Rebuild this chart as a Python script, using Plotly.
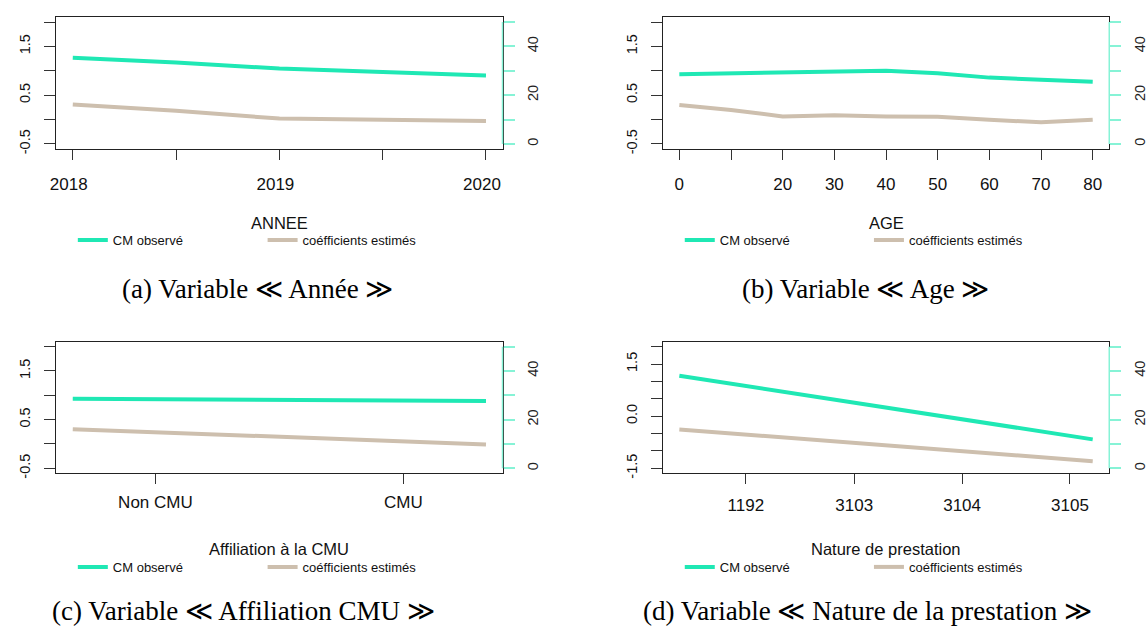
import plotly.graph_objects as go

# ---------------- data ----------------
annee = [2018, 2018.5, 2019, 2019.5, 2020]
cm_annee = [35.3, 33.4, 30.9, 29.6, 28.1]
coef_annee = [0.31, 0.18, 0.02, -0.01, -0.03]
annee_ticks = [2018, 2018.5, 2019, 2019.5, 2020]
annee_labels = ["2018", "", "2019", "", "2020"]

age = [0, 10, 20, 30, 40, 50, 60, 70, 80]
cm_age = [28.6, 28.9, 29.4, 29.8, 30.0, 29.0, 27.2, 26.3, 25.5]
coef_age = [0.30, 0.195, 0.065, 0.086, 0.065, 0.059, -0.003, -0.057, -0.003]
age_ticks = [0, 10, 20, 30, 40, 50, 60, 70, 80]
age_labels = ["0", "", "20", "30", "40", "50", "60", "70", "80"]

cmu_pos = [0, 0.25, 0.5, 0.75, 1.0]
cm_cmu = [28.6, 28.3, 28.2, 28.0, 27.7]
coef_cmu = [0.305, 0.23, 0.148, 0.066, -0.009]
cmu_ticks = [0.2, 0.8]
cmu_labels = ["Non CMU", "CMU"]

nature_pos = [0, 1]
cm_nature = [38.0, 11.9]
coef_nature = [-0.383, -1.293]
nature_ticks = [0.161, 0.423, 0.684, 0.945]
nature_labels = ["1192", "3103", "3104", "3105"]

left_ticks_std = [-0.5, 0, 0.5, 1.0, 1.5, 2.0]
left_labels_std = ["-0.5", "", "0.5", "", "1.5", ""]
left_ticks_d = [-1.5, -1.0, -0.5, 0, 0.5, 1.0, 1.5, 2.0]
left_labels_d = ["-1.5", "", "", "0.0", "", "", "1.5", ""]
right_ticks = [0, 10, 20, 30, 40, 50]
right_labels = ["0", "", "20", "", "40", ""]

axis_titles = ["ANNEE", "AGE", "Affiliation à la CMU", "Nature de prestation"]
captions = ["(a) Variable ≪ Année ≫", "(b) Variable ≪ Age ≫",
            "(c) Variable ≪ Affiliation CMU ≫", "(d) Variable ≪ Nature de la prestation ≫"]
series_names = ["CM observé", "coéfficients estimés"]

# ---------------- style ----------------
W, H = 1148, 628
TEAL = "#1fe8b4"
BEIGE = "#cdbfae"
AXTEAL = "#86f3d6"
SANS = "Liberation Sans, Arial, sans-serif"
SERIF = "Liberation Serif, Times New Roman, serif"

def px_x(p):
    return p / W

def px_y(p):
    return 1 - p / H

panels = [
    dict(x=annee, cm=cm_annee, coef=coef_annee, xt=annee_ticks, xl=annee_labels,
         xr=[2017.92, 2020.08], yl=[-0.6, 2.1], ylt=left_ticks_std, yll=left_labels_std,
         box=(50.6, 500.0, 17.3, 150.0), shift=-4, stand=10),
    dict(x=age, cm=cm_age, coef=coef_age, xt=age_ticks, xl=age_labels,
         xr=[-3.2, 83.2], yl=[-0.6, 2.1], ylt=left_ticks_std, yll=left_labels_std,
         box=(661.4, 1111.0, 17.3, 150.0), shift=0, stand=10),
    dict(x=cmu_pos, cm=cm_cmu, coef=coef_cmu, xt=cmu_ticks, xl=cmu_labels,
         xr=[-0.04, 1.04], yl=[-0.6, 2.1], ylt=left_ticks_std, yll=left_labels_std,
         box=(50.6, 500.0, 344.5, 477.0), shift=0, stand=3),
    dict(x=nature_pos, cm=cm_nature, coef=coef_nature, xt=nature_ticks, xl=nature_labels,
         xr=[-0.04, 1.04], yl=[-1.64, 2.14], ylt=left_ticks_d, yll=left_labels_d,
         box=(661.4, 1111.0, 344.5, 477.0), shift=0, stand=6),
]

fig = go.Figure()
layout = dict(
    width=W, height=H, margin=dict(l=0, r=0, t=0, b=0),
    paper_bgcolor="white", plot_bgcolor="white",
    font=dict(family=SANS, color="#111"),
    showlegend=True,
)
shapes = []
annotations = []

for k, p in enumerate(panels):
    xn = "xaxis" if k == 0 else f"xaxis{k + 1}"
    xref = "x" if k == 0 else f"x{k + 1}"
    ylid = 2 * k + 1
    yrid = 2 * k + 2
    yln = "yaxis" if ylid == 1 else f"yaxis{ylid}"
    ylref = "y" if ylid == 1 else f"y{ylid}"
    yrn = f"yaxis{yrid}"
    yrref = f"y{yrid}"
    x0, x1, ytop, ybot = p["box"]
    xdom = [px_x(x0), px_x(x1)]
    ydom = [px_y(ybot), px_y(ytop)]

    leg1 = f"legend{2 * k + 1}" if k > 0 else "legend"
    leg2 = f"legend{2 * k + 2}"

    fig.add_trace(go.Scatter(x=p["x"], y=p["cm"], mode="lines", name=series_names[0],
                             line=dict(color=TEAL, width=4), xaxis=xref, yaxis=yrref,
                             legend=leg1, hoverinfo="skip"))
    fig.add_trace(go.Scatter(x=p["x"], y=p["coef"], mode="lines", name=series_names[1],
                             line=dict(color=BEIGE, width=4), xaxis=xref, yaxis=ylref,
                             legend=leg2, hoverinfo="skip"))

    layout[xn] = dict(domain=xdom, anchor=ylref, range=p["xr"], tickmode="array",
                      tickvals=p["xt"], ticktext=p["xl"], ticks="outside", ticklen=10,
                      tickwidth=1, tickcolor="#333", showline=True, linecolor="#222",
                      linewidth=1, mirror=True, showgrid=False, zeroline=False,
                      tickfont=dict(size=17, color="#111"),
                      ticklabelstandoff=p["stand"], ticklabelshift=p["shift"])
    layout[yln] = dict(domain=ydom, anchor=xref, range=p["yl"], tickmode="array",
                       tickvals=p["ylt"], ticktext=p["yll"], ticks="outside", ticklen=11,
                       tickwidth=1, tickcolor="#333", showline=True, linecolor="#222",
                       linewidth=1, mirror=True, showgrid=False, zeroline=False,
                       tickangle=-90, tickfont=dict(size=14.5, color="#111"),
                       ticklabelstandoff=8)
    layout[yrn] = dict(overlaying=ylref, side="right", anchor=xref, range=[-2, 52],
                       tickmode="array", tickvals=right_ticks, ticktext=right_labels,
                       ticks="outside", ticklen=11, tickwidth=1.5, tickcolor=AXTEAL,
                       showline=False, showgrid=False, zeroline=False, tickangle=-90,
                       tickfont=dict(size=14.5, color="#222"), ticklabelstandoff=6)
    shapes.append(dict(type="line", xref=f"{xref} domain", x0=1, x1=1, yref=yrref,
                       y0=0, y1=50, line=dict(color=AXTEAL, width=1.5), layer="above"))

    # axis title
    cx = (x0 + x1) / 2
    ty = 225 if k < 2 else 553
    annotations.append(dict(text=axis_titles[k], xref="paper", yref="paper",
                            x=px_x(cx), y=px_y(ty), xanchor="center", yanchor="middle",
                            showarrow=False, font=dict(size=16.5, family=SANS, color="#111")))

    # legends
    ly = 242 if k < 2 else 571.5
    lx1 = 67.3 if k % 2 == 0 else 678.5
    lx2 = 258.4 if k % 2 == 0 else 869.0
    for name, lx in ((leg1, lx1), (leg2, lx2)):
        layout[name] = dict(x=px_x(lx), y=px_y(ly), xanchor="left", yanchor="middle",
                            orientation="h", bgcolor="rgba(0,0,0,0)", borderwidth=0,
                            font=dict(size=13, family=SANS, color="#111"), itemwidth=30)

cap_pos = [(253.5, 291), (866, 291), (239.5, 616), (868, 616)]
for k, (cx, cy) in enumerate(cap_pos):
    annotations.append(dict(text=captions[k], xref="paper", yref="paper",
                            x=px_x(cx), y=px_y(cy), xanchor="center", yanchor="middle",
                            showarrow=False, font=dict(size=27, family=SERIF, color="#000")))

layout["shapes"] = shapes
layout["annotations"] = annotations
fig.update_layout(**layout)
fig.write_html("out.html")
